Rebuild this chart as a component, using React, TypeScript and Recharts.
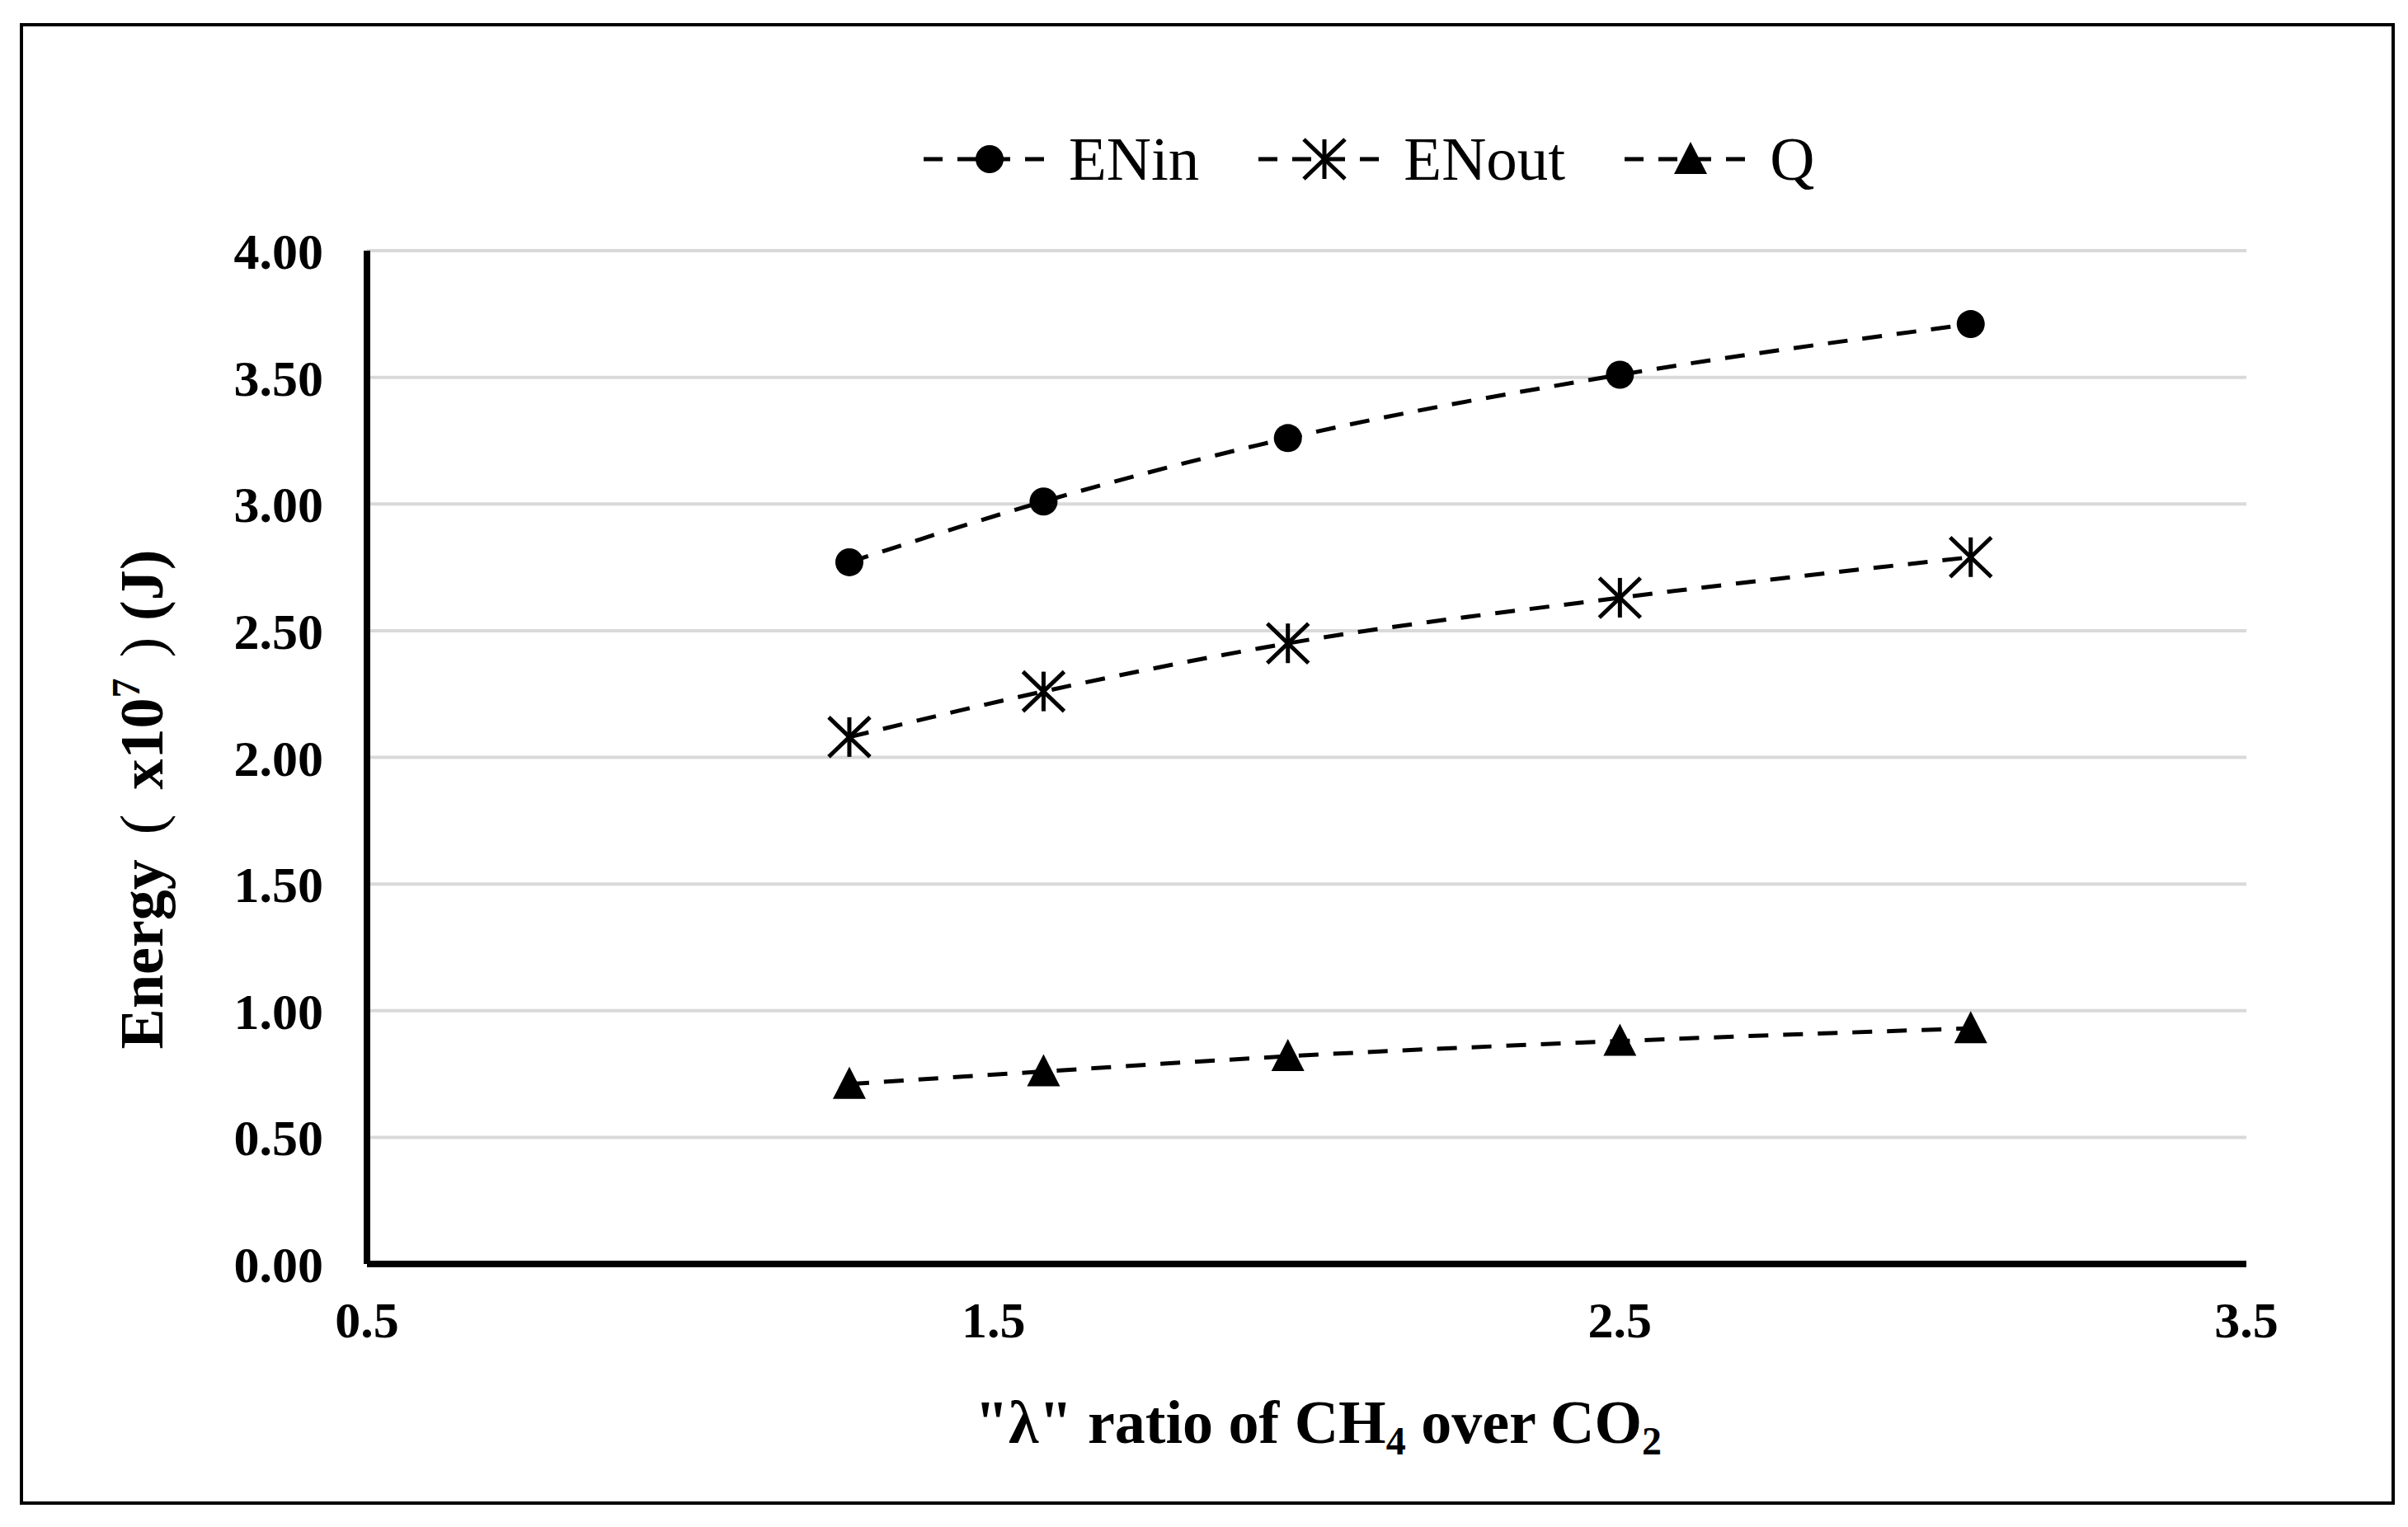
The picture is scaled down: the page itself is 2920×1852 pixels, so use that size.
import React from 'react';
import { LineChart, Line, XAxis, YAxis, CartesianGrid, Legend } from 'recharts';

// values
const lambda = [1.27, 1.58, 1.97, 2.5, 3.06];
const enIn = [2.77, 3.01, 3.26, 3.51, 3.71];
const enOut = [2.08, 2.26, 2.45, 2.63, 2.79];
const heat = [0.71, 0.76, 0.82, 0.88, 0.93];

const xTicks = [0.5, 1.5, 2.5, 3.5];
const yTicks = [0, 0.5, 1, 1.5, 2, 2.5, 3, 3.5, 4];

const data = lambda.map((x, i) => ({ x, ENin: enIn[i], ENout: enOut[i], Q: heat[i] }));

const FONT = '"Liberation Serif", "Times New Roman", serif';
const DASH = '24 18';

const Circle = ({ cx, cy }: any) => <circle cx={cx} cy={cy} r={17} fill="#000" />;

const Star = ({ cx, cy }: any) => (
  <g stroke="#000" strokeWidth={5} strokeLinecap="butt">
    <line x1={cx} y1={cy - 24} x2={cx} y2={cy + 24} />
    <line x1={cx - 25} y1={cy - 24} x2={cx + 25} y2={cy + 24} />
    <line x1={cx - 25} y1={cy + 24} x2={cx + 25} y2={cy - 24} />
  </g>
);

const Tri = ({ cx, cy }: any) => (
  <polygon points={`${cx},${cy - 21} ${cx - 20},${cy + 18} ${cx + 20},${cy + 18}`} fill="#000" />
);

const series = [
  { key: 'ENin', Marker: Circle },
  { key: 'ENout', Marker: Star },
  { key: 'Q', Marker: Tri },
];

const LegendContent = () => (
  <div style={{ display: 'flex', alignItems: 'center', fontFamily: FONT, fontSize: 75, lineHeight: '86px' }}>
    {series.map(({ key, Marker }) => (
      <div key={key} style={{ display: 'flex', alignItems: 'center', marginRight: 72 }}>
        <svg width={148} height={56}>
          <line x1={0} y1={28} x2={148} y2={28} stroke="#000" strokeWidth={5} strokeDasharray="23 18" />
          <Marker cx={80} cy={28} />
        </svg>
        <span style={{ marginLeft: 28 }}>{key}</span>
      </div>
    ))}
  </div>
);

const XTitle = (props: any) => {
  const vb = props.viewBox || { x: 445, y: 1533, width: 2279, height: 120 };
  const cx = vb.x + vb.width / 2 + 14;
  const y = vb.y + 217;
  return (
    <text x={cx} y={y} textAnchor="middle" fontFamily={FONT} fontSize={74} fontWeight="bold" fill="#000">
      "λ" ratio of CH
      <tspan fontSize={48} dy={14}>4</tspan>
      <tspan dy={-14}> over CO</tspan>
      <tspan fontSize={48} dy={14}>2</tspan>
    </text>
  );
};

const YTitle = (props: any) => {
  const vb = props.viewBox || { x: 285, y: 304, width: 160, height: 1229 };
  const x = vb.x - 88;
  const y = vb.y + vb.height / 2 + 51;
  return (
    <text
      x={x}
      y={y}
      transform={`rotate(-90, ${x}, ${y})`}
      textAnchor="middle"
      fontFamily={FONT}
      fontSize={74}
      fontWeight="bold"
      fill="#000"
    >
      Energy
      <tspan dx={30} fontWeight="normal">(</tspan>
      <tspan dx={30}>x10</tspan>
      <tspan fontSize={48} dy={-28}>7</tspan>
      <tspan dx={25} dy={28} fontWeight="normal">)</tspan>
      <tspan dx={20}>(J)</tspan>
    </text>
  );
};

export default function App() {
  return (
    <div style={{ position: 'absolute', left: 0, top: 0, width: 2920, height: 1852, background: '#fff' }}>
      <div
        style={{
          position: 'absolute',
          left: 24,
          top: 28,
          width: 2872,
          height: 1789,
          border: '4px solid #000',
        }}
      />
      <div style={{ position: 'absolute', left: 0, top: 0 }}>
        <LineChart width={2920} height={1852} data={data} margin={{ top: 304, right: 196, bottom: 199, left: 285 }}>
          <CartesianGrid vertical={false} stroke="#d9d9d9" strokeWidth={4} />
          <XAxis
            dataKey="x"
            type="number"
            domain={[0.5, 3.5]}
            ticks={xTicks}
            interval={0}
            height={120}
            axisLine={{ stroke: '#000', strokeWidth: 8 }}
            tickLine={false}
            tickSize={0}
            tickMargin={45}
            tick={{ fill: '#000', fontSize: 62, fontWeight: 'bold', fontFamily: FONT }}
            label={{ content: (p: any) => <XTitle {...p} /> }}
          />
          <YAxis
            type="number"
            domain={[0, 4]}
            ticks={yTicks}
            interval={0}
            width={160}
            tickFormatter={(v: number) => v.toFixed(2)}
            axisLine={{ stroke: '#000', strokeWidth: 8 }}
            tickLine={false}
            tickSize={0}
            tickMargin={53}
            tick={{ fill: '#000', fontSize: 62, fontWeight: 'bold', fontFamily: FONT }}
            label={{ content: (p: any) => <YTitle {...p} /> }}
          />
          <Legend
            verticalAlign="middle"
            align="center"
            layout="horizontal"
            content={() => <LegendContent />}
            wrapperStyle={{ top: 150, left: 1120, width: 'auto' }}
          />
          {series.map(({ key, Marker }) => (
            <Line
              key={key}
              dataKey={key}
              type="monotone"
              stroke="#000"
              strokeWidth={5}
              strokeDasharray={DASH}
              dot={(p: any) => <Marker key={`${key}-${p.index}`} cx={p.cx} cy={p.cy} />}
              activeDot={false}
              isAnimationActive={false}
            />
          ))}
        </LineChart>
      </div>
    </div>
  );
}
